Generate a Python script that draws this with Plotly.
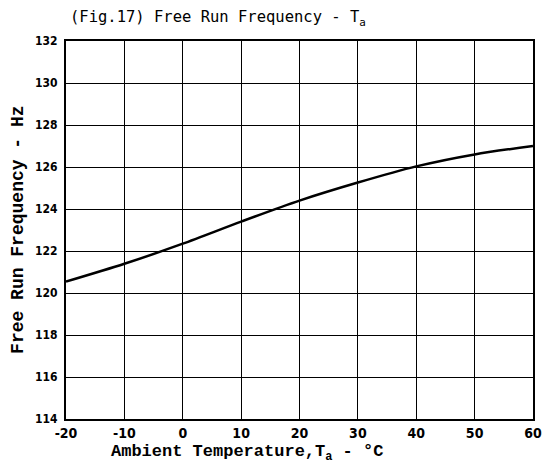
import plotly.graph_objects as go

temperature_c = [-20, -10, 0, 10, 20, 30, 40, 50, 60]
frequency_hz = [120.54, 121.39, 122.35, 123.40, 124.40, 125.26, 126.03, 126.60, 127.00]
x_ticks = [-20, -10, 0, 10, 20, 30, 40, 50, 60]
y_ticks = [114, 116, 118, 120, 122, 124, 126, 128, 130, 132]

fig = go.Figure()
fig.add_trace(go.Scatter(
    x=temperature_c, y=frequency_hz, mode="lines",
    line=dict(color="black", width=2.5, shape="spline", smoothing=0.8),
    showlegend=False, hoverinfo="skip"))

fig.update_layout(
    width=543, height=464,
    margin=dict(l=66, r=10, t=41, b=45, autoexpand=False),
    paper_bgcolor="white", plot_bgcolor="white",
    title=dict(text="(Fig.17) Free Run Frequency - T<sub>a</sub>",
               x=70 / 543, xanchor="left", y=1 - 17 / 464, yanchor="middle",
               font=dict(family="DejaVu Sans Mono", size=15.5, color="black")),
    annotations=[
        dict(text="<b>Ambient Temperature,T<sub>a</sub> - °C</b>",
             xref="paper", yref="paper", x=0.387, y=-0.09,
             xanchor="center", yanchor="middle", showarrow=False,
             font=dict(family="Liberation Mono", size=17, color="black")),
        dict(text="<b>Free Run Frequency - Hz</b>",
             xref="paper", yref="paper", x=-0.103, y=0.50,
             xanchor="center", yanchor="middle", showarrow=False, textangle=-90,
             font=dict(family="Liberation Mono", size=18, color="black")),
    ],
)
fig.update_xaxes(
    range=[-20, 60], tickvals=x_ticks, ticktext=[str(v) for v in x_ticks],
    showgrid=True, gridcolor="black", gridwidth=1,
    showline=True, linecolor="black", linewidth=2, mirror=True,
    ticks="", zeroline=False, automargin=False, ticklabelstandoff=0,
    tickfont=dict(family="DejaVu Sans Condensed", size=14, color="black", weight="bold"),
)
fig.update_yaxes(
    range=[114, 132], tickvals=y_ticks, ticktext=[str(v) for v in y_ticks],
    showgrid=True, gridcolor="black", gridwidth=1,
    showline=True, linecolor="black", linewidth=2, mirror=True,
    ticks="", zeroline=False, automargin=False, ticklabelstandoff=4,
    tickfont=dict(family="DejaVu Sans Condensed", size=12, color="black", weight="bold"),
)

fig.write_html("out.html", config={"displayModeBar": False},
               post_script="document.body.style.margin='0';")
